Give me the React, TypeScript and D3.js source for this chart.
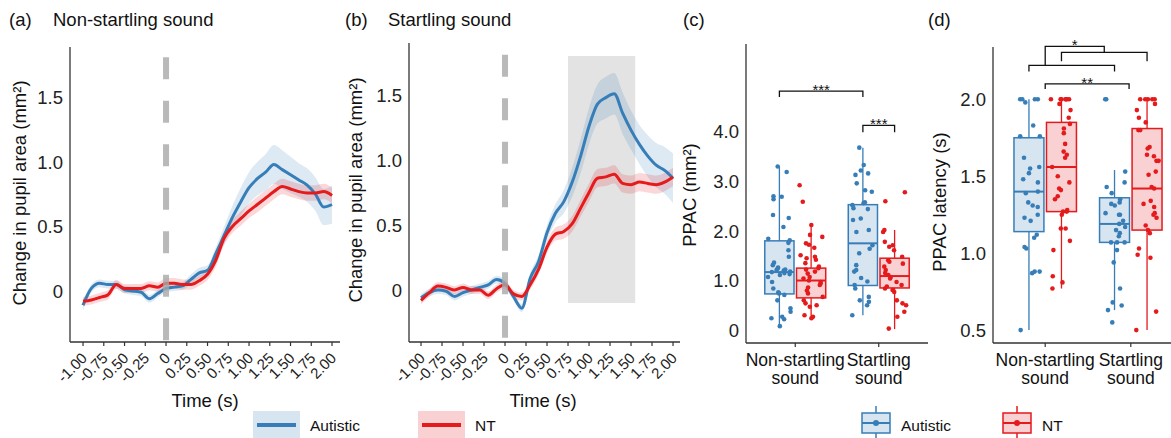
import * as d3 from "d3";

const FONT = "'Liberation Sans', Arial, Helvetica, sans-serif";
const BLUE = "#377EB8";
const RED = "#E41A1C";
const INK = "#333333";

// ---------- (a)/(b) pupil time courses ----------
const timeSec = [-1.0, -0.9, -0.8, -0.7, -0.6, -0.5, -0.4, -0.3, -0.2, -0.1, 0.0, 0.1, 0.2, 0.3, 0.4, 0.5,
  0.6, 0.7, 0.8, 0.9, 1.0, 1.1, 1.2, 1.3, 1.4, 1.5, 1.6, 1.7, 1.8, 1.9, 2.0];

const nonStartAutMean = [-0.11, 0.02, 0.06, 0.05, 0.05, 0.01, 0.0, -0.01, -0.06, -0.02, 0.02, 0.03, 0.04, 0.09, 0.14, 0.16,
  0.29, 0.43, 0.57, 0.69, 0.8, 0.87, 0.92, 0.98, 0.94, 0.9, 0.86, 0.82, 0.75, 0.65, 0.67];
const nonStartAutSe = [0.04, 0.03, 0.03, 0.03, 0.03, 0.03, 0.03, 0.03, 0.03, 0.03, 0.03, 0.03, 0.03, 0.04, 0.04, 0.04,
  0.05, 0.07, 0.09, 0.11, 0.12, 0.13, 0.14, 0.15, 0.15, 0.14, 0.13, 0.13, 0.13, 0.14, 0.15];
const nonStartNtMean = [-0.08, -0.07, -0.05, -0.03, 0.05, 0.02, 0.02, 0.02, 0.04, 0.03, 0.06, 0.06, 0.05, 0.05, 0.08, 0.13,
  0.24, 0.41, 0.5, 0.56, 0.62, 0.67, 0.72, 0.77, 0.81, 0.79, 0.77, 0.76, 0.76, 0.77, 0.74];
const nonStartNtSe = [0.035, 0.035, 0.035, 0.035, 0.035, 0.035, 0.035, 0.035, 0.035, 0.035, 0.04, 0.04, 0.04, 0.04, 0.04, 0.045,
  0.05, 0.05, 0.05, 0.055, 0.055, 0.06, 0.06, 0.06, 0.06, 0.06, 0.06, 0.06, 0.06, 0.06, 0.06];

const startAutMean = [-0.06, -0.02, 0.0, -0.01, -0.05, -0.02, 0.0, 0.02, 0.04, 0.08, 0.05, -0.05, -0.14, 0.09, 0.22, 0.44,
  0.59, 0.68, 0.83, 1.03, 1.26, 1.43, 1.48, 1.51, 1.36, 1.23, 1.12, 1.03, 0.96, 0.92, 0.86];
const startAutSe = [0.03, 0.03, 0.03, 0.03, 0.03, 0.03, 0.03, 0.03, 0.03, 0.03, 0.03, 0.03, 0.03, 0.04, 0.05, 0.06,
  0.07, 0.09, 0.11, 0.13, 0.14, 0.15, 0.16, 0.16, 0.16, 0.15, 0.15, 0.16, 0.17, 0.18, 0.19];
const startNtMean = [-0.08, -0.02, 0.03, 0.02, 0.0, 0.02, 0.0, 0.0, -0.04, 0.01, 0.04, -0.03, -0.05, 0.04, 0.16, 0.33,
  0.43, 0.45, 0.51, 0.63, 0.75, 0.86, 0.87, 0.89, 0.82, 0.81, 0.83, 0.82, 0.81, 0.83, 0.87];
const startNtSe = [0.03, 0.03, 0.03, 0.03, 0.03, 0.03, 0.03, 0.03, 0.03, 0.03, 0.03, 0.03, 0.03, 0.035, 0.04, 0.045,
  0.05, 0.055, 0.06, 0.065, 0.07, 0.07, 0.07, 0.07, 0.07, 0.07, 0.07, 0.07, 0.07, 0.07, 0.07];

const timeTicks = [-1, -0.75, -0.5, -0.25, 0, 0.25, 0.5, 0.75, 1, 1.25, 1.5, 1.75, 2];
const timeTickLabels = ["-1.00", "-0.75", "-0.50", "-0.25", "0", "0.25", "0.50", "0.75", "1.00", "1.25", "1.50", "1.75", "2.00"];
const pupilTicks = [0, 0.5, 1, 1.5];
const pupilTickLabels = ["0", "0.5", "1.0", "1.5"];
const onsetLineTop = 1.81;
const peakWindow = [0.75, 1.55];
const peakWindowRange = [-0.1, 1.8];

// ---------- (c)/(d) boxplots ----------
const groups = ["Autistic", "NT"];
const conditions = ["Non-startling sound", "Startling sound"];
const conditionLines = [["Non-startling", "sound"], ["Startling", "sound"]];

// [lower whisker, Q1, median, Q3, upper whisker]
const ppacAutNsBox = [0.08, 0.73, 1.17, 1.8, 3.3];
const ppacNtNsBox = [0.24, 0.65, 1.0, 1.25, 2.12];
const ppacAutStBox = [0.3, 0.9, 1.75, 2.53, 3.68];
const ppacNtStBox = [0.02, 0.85, 1.09, 1.45, 2.02];

const ppacAutNsPts = [3.3, 3.19, 2.7, 2.69, 2.64, 2.32, 2.26, 2.08, 1.84, 1.81, 1.76, 1.61, 1.48, 1.36, 1.31, 1.26, 1.24, 1.22, 1.21,
  1.2, 1.18, 1.17, 1.15, 1.13, 1.11, 1.07, 0.97, 0.84, 0.76, 0.74, 0.71, 0.6, 0.44, 0.37, 0.27, 0.24, 0.22, 0.08];
const ppacNtNsPts = [2.92, 2.59, 2.12, 1.92, 1.88, 1.75, 1.72, 1.66, 1.51, 1.48, 1.45, 1.42, 1.35, 1.28, 1.25, 1.22, 1.18, 1.14,
  1.07, 1.04, 1.0, 0.97, 0.94, 0.91, 0.86, 0.8, 0.74, 0.67, 0.6, 0.54, 0.5, 0.47, 0.3, 0.27, 0.24];
const ppacAutStPts = [3.68, 3.33, 3.22, 3.16, 3.13, 2.96, 2.82, 2.79, 2.58, 2.56, 2.52, 2.46, 2.44, 2.25, 2.22, 2.02, 1.98, 1.71,
  1.64, 1.55, 1.31, 1.21, 1.18, 1.05, 0.98, 0.91, 0.84, 0.67, 0.6, 0.57, 0.5, 0.3];
const ppacNtStPts = [2.78, 2.6, 2.02, 1.98, 1.78, 1.71, 1.68, 1.61, 1.48, 1.41, 1.38, 1.34, 1.28, 1.21, 1.15, 1.11, 1.07, 1.04,
  0.97, 0.91, 0.88, 0.84, 0.81, 0.77, 0.6, 0.54, 0.5, 0.37, 0.27, 0.03];

const latAutNsBox = [0.5, 1.14, 1.4, 1.75, 2.0];
const latNtNsBox = [0.77, 1.27, 1.56, 1.85, 2.0];
const latAutStBox = [0.63, 1.07, 1.19, 1.36, 1.54];
const latNtStBox = [0.5, 1.15, 1.42, 1.81, 2.0];

const latAutNsPts = [2.0, 2.0, 2.0, 2.0, 1.98, 1.83, 1.76, 1.76, 1.62, 1.56, 1.55, 1.52, 1.48, 1.46, 1.4, 1.39, 1.33, 1.31, 1.3,
  1.25, 1.23, 1.21, 1.12, 1.1, 1.04, 1.03, 0.88, 0.88, 0.87, 0.5];
const latNtNsPts = [2.0, 2.0, 2.0, 2.0, 2.0, 2.0, 2.0, 1.97, 1.93, 1.88, 1.84, 1.81, 1.78, 1.71, 1.66, 1.64, 1.62, 1.56, 1.5,
  1.46, 1.42, 1.41, 1.37, 1.35, 1.28, 1.27, 1.27, 1.25, 1.16, 1.16, 1.08, 1.02, 0.85, 0.81, 0.77];
const latAutStPts = [2.0, 2.0, 1.53, 1.46, 1.43, 1.39, 1.35, 1.33, 1.32, 1.31, 1.26, 1.25, 1.25, 1.21, 1.19, 1.17, 1.15, 1.13,
  1.11, 1.07, 1.07, 1.07, 1.02, 0.94, 0.77, 0.68, 0.66, 0.63, 0.55];
const latNtStPts = [2.0, 2.0, 2.0, 2.0, 2.0, 1.97, 1.93, 1.88, 1.85, 1.8, 1.8, 1.69, 1.68, 1.64, 1.63, 1.6, 1.6, 1.53, 1.51,
  1.43, 1.42, 1.34, 1.32, 1.3, 1.26, 1.25, 1.23, 1.18, 1.15, 1.13, 1.03, 0.99, 0.97, 0.62, 0.5];

const ppacTicks = [0, 1, 2, 3, 4];
const ppacTickLabels = ["0", "1.0", "2.0", "3.0", "4.0"];
const latTicks = [0.5, 1, 1.5, 2];
const latTickLabels = ["0.5", "1.0", "1.5", "2.0"];

// significance brackets: x in condition units (1 = non-startling, 2 = startling)
const ppacBrackets = [
  { from: 0.81, to: 1.81, y: 4.82, tipL: 4.7, tipR: 4.7, label: "***" },
  { from: 1.81, to: 2.19, y: 4.13, tipL: 3.99, tipR: 3.99, label: "***" },
];
const latBrackets = [
  { from: 0.81, to: 1.81, y: 2.22, tipL: 2.18, tipR: 2.18, label: "" },
  { from: 1.19, to: 2.19, y: 2.305, tipL: 2.247, tipR: 2.247, label: "" },
  { from: 1.0, to: 1.69, y: 2.344, tipL: 2.22, tipR: 2.305, label: "*" },
  { from: 1.0, to: 1.98, y: 2.1, tipL: 2.067, tipR: 2.067, label: "**" },
];

// deterministic horizontal jitter for the dots
const rand = d3.randomLcg(0.4217);
const jitterOf = (n: number) => Array.from({ length: n }, () => (rand() - 0.5) * 0.8);

function PupilPanel({ left, right, top, bottom, xDomain, yDomain, autMean, autSe, ntMean, ntSe, showWindow,
  tag, tagX, title, titleX, yTitleX, yTitleY, xTitleX }: any) {
  const x = d3.scaleLinear().domain(xDomain).range([left, right]);
  const y = d3.scaleLinear().domain(yDomain).range([bottom, top]);
  const line = d3.line<number>().x((_, i) => x(timeSec[i])).y((d) => y(d)).curve(d3.curveMonotoneX);
  const band = (m: number[], s: number[]) =>
    d3.area<number>().x((_, i) => x(timeSec[i])).y0((d, i) => y(d - s[i])).y1((d, i) => y(d + s[i]))
      .curve(d3.curveMonotoneX)(m);
  return (
    <g>
      <text x={tagX} y={26} fontSize={18.5} fill="#111">{tag}</text>
      <text x={titleX} y={26} fontSize={18.5} fill="#111">{title}</text>
      {showWindow && (
        <rect x={x(peakWindow[0])} y={y(peakWindowRange[1])} width={x(peakWindow[1]) - x(peakWindow[0])}
          height={y(peakWindowRange[0]) - y(peakWindowRange[1])} fill="#e3e3e3" />
      )}
      <path d={band(autMean, autSe) || ""} fill={BLUE} fillOpacity={0.17} />
      <path d={band(ntMean, ntSe) || ""} fill={RED} fillOpacity={0.17} />
      <path d={line(autMean) || ""} fill="none" stroke={BLUE} strokeWidth={3} />
      <path d={line(ntMean) || ""} fill="none" stroke={RED} strokeWidth={3} />
      <line x1={x(0)} x2={x(0)} y1={y(onsetLineTop)} y2={bottom} stroke="#a8a8a8" strokeOpacity={0.8}
        strokeWidth={6} strokeDasharray="22 21.5" />
      <line x1={left} x2={left} y1={top} y2={bottom} stroke={INK} strokeWidth={1.3} />
      <line x1={left} x2={right} y1={bottom} y2={bottom} stroke={INK} strokeWidth={1.3} />
      {pupilTicks.map((t, i) => (
        <text key={t} x={left - 7} y={y(t)} dy="0.36em" textAnchor="end" fontSize={18.5} fill="#222">
          {pupilTickLabels[i]}
        </text>
      ))}
      {timeTicks.map((t, i) => (
        <g key={t}>
          <line x1={x(t)} x2={x(t)} y1={bottom} y2={bottom + 4} stroke={INK} strokeWidth={1.2} />
          <text transform={`translate(${x(t) + 5},${bottom + 17}) rotate(-45)`} textAnchor="end" fontSize={15}
            fill="#222">{timeTickLabels[i]}</text>
        </g>
      ))}
      <text x={xTitleX} y={407} textAnchor="middle" fontSize={18.5} fill="#111">Time (s)</text>
      <text transform={`translate(${yTitleX},${yTitleY}) rotate(-90)`} textAnchor="middle" dy="0.35em"
        fontSize={18.5} fill="#111">Change in pupil area (mm²)</text>
    </g>
  );
}

function BoxPanel({ left, right, top, bottom, yDomain, ticks, tickLabels, boxes, points, brackets, pad,
  tag, tagX, yTitle, yTitleX, yTitleY }: any) {
  const xp = d3.scalePoint<string>().domain(conditions).range([left, right]).padding(pad);
  const xc = d3.scaleLinear().domain([1, 2]).range([xp(conditions[0])!, xp(conditions[1])!]);
  const y = d3.scaleLinear().domain(yDomain).range([bottom, top]);
  const dodge = 0.19;
  const bw = xc(1.35) - xc(1);
  const colors = [BLUE, RED];
  return (
    <g>
      <text x={tagX} y={26} fontSize={18.5} fill="#111">{tag}</text>
      {conditions.map((c, ci) =>
        groups.map((g, gi) => {
          const cx = xc(ci + 1 + (gi === 0 ? -dodge : dodge));
          const [lo, q1, med, q3, hi] = boxes[ci][gi];
          const col = colors[gi];
          const pts: number[] = points[ci][gi];
          const jit = jitterOf(pts.length);
          return (
            <g key={c + g}>
              <line x1={cx} x2={cx} y1={y(lo)} y2={y(q1)} stroke={col} strokeWidth={1.3} />
              <line x1={cx} x2={cx} y1={y(q3)} y2={y(hi)} stroke={col} strokeWidth={1.3} />
              <rect x={cx - bw / 2} y={y(q3)} width={bw} height={y(q1) - y(q3)} fill={col} fillOpacity={0.2}
                stroke={col} strokeWidth={1.5} />
              <line x1={cx - bw / 2} x2={cx + bw / 2} y1={y(med)} y2={y(med)} stroke={col} strokeWidth={2} />
              {pts.map((v, i) => (
                <circle key={i} cx={cx + jit[i] * bw} cy={y(v)} r={2.3} fill={col} />
              ))}
            </g>
          );
        })
      )}
      {brackets.map((b: any, i: number) => (
        <g key={i}>
          <path d={`M${xc(b.from)},${y(b.tipL)}V${y(b.y)}H${xc(b.to)}V${y(b.tipR)}`} fill="none" stroke="#111"
            strokeWidth={1.3} />
          {b.label && (
            <text x={(xc(b.from) + xc(b.to)) / 2} y={y(b.y) + 4} textAnchor="middle" fontSize={15} fill="#111">
              {b.label}
            </text>
          )}
        </g>
      ))}
      <line x1={left} x2={left} y1={top} y2={bottom} stroke={INK} strokeWidth={1.3} />
      <line x1={left} x2={right} y1={bottom} y2={bottom} stroke={INK} strokeWidth={1.3} />
      {ticks.map((t: number, i: number) => (
        <text key={t} x={left - 7} y={y(t)} dy="0.36em" textAnchor="end" fontSize={18.5} fill="#222">
          {tickLabels[i]}
        </text>
      ))}
      {conditions.map((c, ci) => (
        <g key={c}>
          <line x1={xp(c)} x2={xp(c)} y1={bottom} y2={bottom + 4} stroke={INK} strokeWidth={1.2} />
          {conditionLines[ci].map((s, k) => (
            <text key={s} x={xp(c)} y={366 + k * 18} textAnchor="middle" fontSize={17.5} fill="#111">{s}</text>
          ))}
        </g>
      ))}
      <text transform={`translate(${yTitleX},${yTitleY}) rotate(-90)`} textAnchor="middle" dy="0.35em"
        fontSize={18.5} fill="#111">{yTitle}</text>
    </g>
  );
}

function LineLegend() {
  const items = [
    { label: groups[0], col: BLUE, x: 253 },
    { label: groups[1], col: RED, x: 418 },
  ];
  return (
    <g>
      {items.map((it) => (
        <g key={it.label}>
          <rect x={it.x} y={411} width={47} height={30} fill={it.col} fillOpacity={0.2} />
          <line x1={it.x + 4} x2={it.x + 43} y1={425} y2={425} stroke={it.col} strokeWidth={4} />
          <text x={it.x + 57} y={430.5} fontSize={15.5} fill="#111">{it.label}</text>
        </g>
      ))}
    </g>
  );
}

function BoxLegend() {
  const items = [
    { label: groups[0], col: BLUE, x: 862 },
    { label: groups[1], col: RED, x: 1003 },
  ];
  return (
    <g>
      {items.map((it) => (
        <g key={it.label}>
          <line x1={it.x + 14} x2={it.x + 14} y1={406} y2={440} stroke={it.col} strokeWidth={1.5} />
          <rect x={it.x} y={413} width={28} height={20} fill="white" />
          <rect x={it.x} y={413} width={28} height={20} fill={it.col} fillOpacity={0.2} stroke={it.col}
            strokeWidth={1.5} />
          <line x1={it.x} x2={it.x + 28} y1={423} y2={423} stroke={it.col} strokeWidth={2} />
          <circle cx={it.x + 14} cy={423} r={3} fill={it.col} />
          <text x={it.x + 39} y={430.5} fontSize={15.5} fill="#111">{it.label}</text>
        </g>
      ))}
    </g>
  );
}

export default function App() {
  return (
    <svg width={1171} height={438} fontFamily={FONT}
      style={{ position: "absolute", left: 0, top: 0, display: "block", background: "white" }}>
      <rect width={1171} height={438} fill="white" />
      <PupilPanel left={70} right={340} top={47} bottom={342} xDomain={[-1.157, 2.096]} yDomain={[-0.395, 1.89]}
        autMean={nonStartAutMean} autSe={nonStartAutSe} ntMean={nonStartNtMean} ntSe={nonStartNtSe}
        showWindow={false} tag="(a)" tagX={9} title="Non-startling sound" titleX={53}
        yTitleX={20} yTitleY={193} xTitleX={205} />
      <PupilPanel left={409} right={680} top={43} bottom={342} xDomain={[-1.143, 2.083]} yDomain={[-0.4, 1.9]}
        autMean={startAutMean} autSe={startAutSe} ntMean={startNtMean} ntSe={startNtSe}
        showWindow={true} tag="(b)" tagX={345} title="Startling sound" titleX={388}
        yTitleX={356} yTitleY={190} xTitleX={543} />
      <BoxPanel left={746} right={928} top={44} bottom={343} yDomain={[-0.26, 5.77]} ticks={ppacTicks}
        tickLabels={ppacTickLabels} pad={0.59}
        boxes={[[ppacAutNsBox, ppacNtNsBox], [ppacAutStBox, ppacNtStBox]]}
        points={[[ppacAutNsPts, ppacNtNsPts], [ppacAutStPts, ppacNtStPts]]}
        brackets={ppacBrackets} tag="(c)" tagX={683} yTitle="PPAC (mm²)" yTitleX={690} yTitleY={195} />
      <BoxPanel left={993} right={1183} top={47} bottom={343} yDomain={[0.416, 2.34]} ticks={latTicks}
        tickLabels={latTickLabels} pad={0.61}
        boxes={[[latAutNsBox, latNtNsBox], [latAutStBox, latNtStBox]]}
        points={[[latAutNsPts, latNtNsPts], [latAutStPts, latNtStPts]]}
        brackets={latBrackets} tag="(d)" tagX={928} yTitle="PPAC latency (s)" yTitleX={940} yTitleY={202} />
      <LineLegend />
      <BoxLegend />
    </svg>
  );
}
